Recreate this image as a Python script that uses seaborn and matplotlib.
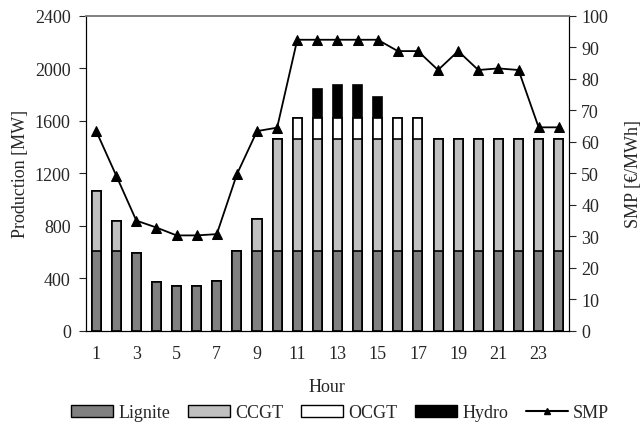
import numpy as np
import matplotlib
matplotlib.use('Agg')
import matplotlib.pyplot as plt
import seaborn as sns
from matplotlib.patches import Patch
from matplotlib.lines import Line2D

godziny = np.arange(1, 25)
lignite = [610, 610, 590, 370, 345, 345, 383, 610, 610, 610, 610, 610,
           610, 610, 610, 610, 610, 610, 610, 610, 610, 610, 610, 610]
ccgt = [455, 230, 0, 0, 0, 0, 0, 0, 243, 850, 850, 850,
        850, 850, 850, 850, 850, 850, 850, 850, 850, 850, 850, 850]
ocgt = [0, 0, 0, 0, 0, 0, 0, 0, 0, 0, 160, 160,
        160, 160, 160, 160, 160, 0, 0, 0, 0, 0, 0, 0]
hydro = [0, 0, 0, 0, 0, 0, 0, 0, 0, 0, 0, 220,
         255, 255, 165, 0, 0, 0, 0, 0, 0, 0, 0, 0]
smp = [63.5, 49.3, 35, 32.8, 30.3, 30.3, 30.7, 49.7, 63.4, 64.5, 92.4, 92.4,
       92.4, 92.4, 92.4, 88.8, 88.8, 82.8, 88.8, 82.8, 83.3, 82.8, 64.6, 64.6]

sns.set_style('white')
plt.rcParams['font.family'] = ['Liberation Serif', 'DejaVu Serif']

l = np.array(lignite)
c = l + np.array(ccgt)
o = c + np.array(ocgt)
h = o + np.array(hydro)

fig, ax = plt.subplots(figsize=(6.42, 4.31), dpi=100)
fig.subplots_adjust(left=0.134, right=0.886, top=0.961, bottom=0.230)

# nakladanie skumulowanych slupkow od najwyzszego
warstwy = [(h, 'black'), (o, 'white'), (c, '#c0c0c0'), (l, '#808080')]
for wart, kolor in warstwy:
    sns.barplot(x=godziny, y=wart, color=kolor, edgecolor='black', linewidth=1.2,
                width=0.45, saturation=1, ax=ax, errorbar=None)

fs = 13
ax.set_ylim(0, 2400)
ax.set_yticks(np.arange(0, 2401, 400))
ax.set_xlim(-0.5, 23.5)
ax.set_xticks(np.arange(0, 24, 2))
ax.set_xticklabels([str(g) for g in godziny[::2]])
ax.set_xticks(np.arange(-0.5, 24, 1), minor=True)
ax.tick_params(axis='x', which='major', length=0, labelsize=fs, pad=10)
ax.tick_params(axis='x', which='minor', length=5, width=0.8, direction='out')
ax.tick_params(axis='y', length=5, width=0.8, direction='out', labelsize=fs, left=True, pad=6)
ax.set_xlabel('Hour', fontsize=fs, labelpad=12)
ax.set_ylabel('Production [MW]', fontsize=fs, labelpad=4)

ax2 = ax.twinx()
sns.lineplot(x=np.arange(24), y=smp, color='black', marker='^', markersize=7,
             markeredgecolor='black', linewidth=1.3, ax=ax2)
ax2.set_ylim(0, 100)
ax2.set_yticks(np.arange(0, 101, 10))
ax2.tick_params(axis='y', length=5, width=0.8, direction='out', labelsize=fs, right=True, pad=4)
ax2.set_ylabel('SMP [€/MWh]', fontsize=fs, labelpad=12)

for a in (ax, ax2):
    for s in a.spines.values():
        s.set_color('black')
        s.set_linewidth(0.8)
    a.spines['top'].set_color('#808080')
    a.spines['top'].set_linewidth(1.2)

uchwyty = [Patch(facecolor='#808080', edgecolor='black', label='Lignite'),
           Patch(facecolor='#c0c0c0', edgecolor='black', label='CCGT'),
           Patch(facecolor='white', edgecolor='black', label='OCGT'),
           Patch(facecolor='black', edgecolor='black', label='Hydro'),
           Line2D([0], [0], color='black', marker='^', markersize=5, label='SMP')]
fig.legend(handles=uchwyty, loc='center', bbox_to_anchor=(0.53, 0.040), ncol=5,
           frameon=False, fontsize=fs, handlelength=2.3, handleheight=0.6,
           columnspacing=1.0, handletextpad=0.3)

fig.savefig('out.png', dpi=100)
